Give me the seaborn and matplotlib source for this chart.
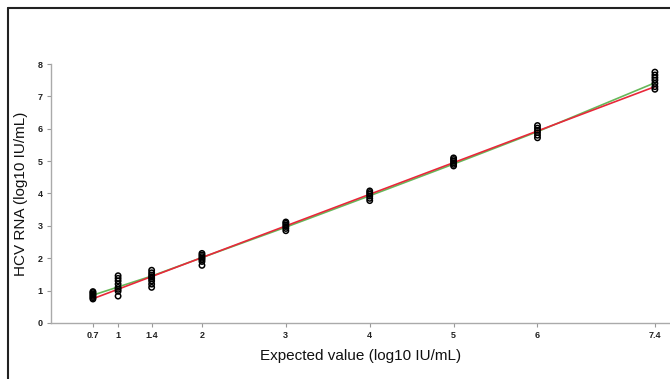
import numpy as np
import pandas as pd
import matplotlib
matplotlib.use("Agg")
import matplotlib.pyplot as plt
import seaborn as sns
from matplotlib.lines import Line2D

# Data
expected = [0.7, 1, 1.4, 2, 3, 4, 5, 6, 7.4]
measured = [
    [0.74, 0.78, 0.82, 0.86, 0.9, 0.94, 0.97],
    [0.83, 0.98, 1.04, 1.1, 1.2, 1.3, 1.38, 1.46],
    [1.1, 1.2, 1.3, 1.37, 1.42, 1.48, 1.55, 1.63],
    [1.78, 1.9, 1.96, 2.0, 2.05, 2.1, 2.15],
    [2.85, 2.92, 2.98, 3.03, 3.08, 3.12],
    [3.78, 3.85, 3.92, 3.98, 4.03, 4.08],
    [4.85, 4.9, 4.95, 5.0, 5.05, 5.1],
    [5.72, 5.8, 5.88, 5.95, 6.02, 6.1],
    [7.22, 7.3, 7.4, 7.5, 7.58, 7.66, 7.75],
]
green_x = [0.7, 1.4, 2, 3, 4, 5, 6, 7.4]
green_y = [0.86, 1.45, 2.02, 2.96, 3.93, 4.91, 5.91, 7.42]
red_x = [0.7, 7.4]
red_y = [0.75, 7.3]
xticks = [0.7, 1, 1.4, 2, 3, 4, 5, 6, 7.4]
xticklabels = ["0.7", "1", "1.4", "2", "3", "4", "5", "6", "7.4"]
yticks = [0, 1, 2, 3, 4, 5, 6, 7, 8]

rows = [(x, v) for x, vals in zip(expected, measured) for v in vals]
df = pd.DataFrame(rows, columns=["expected", "measured"])
lines = pd.DataFrame({
    "x": green_x + red_x,
    "y": green_y + red_y,
    "fit": ["green"] * len(green_x) + ["red"] * len(red_x),
})

sns.set_style("white")
plt.rcParams["font.family"] = ["Liberation Sans", "DejaVu Sans"]

fig = plt.figure(figsize=(6.7, 3.79), dpi=100)
ax = fig.add_axes([0.0761, 0.1478, 0.9239, 0.6833])

sns.lineplot(data=lines, x="x", y="y", hue="fit",
             palette={"green": "#66b85a", "red": "#e8283a"},
             linewidth=1.2, legend=False, ax=ax, zorder=2, sort=True)
sns.scatterplot(data=df, x="expected", y="measured", marker="o",
                facecolor="none", edgecolor="black", linewidth=1.1,
                s=15, ax=ax, zorder=3)

ax.set_xlim(0.2, 7.58)
ax.set_ylim(0, 8)
ax.set_xticks(xticks)
ax.set_xticklabels(xticklabels)
ax.set_yticks(yticks)
for lab in ax.get_xticklabels() + ax.get_yticklabels():
    lab.set_fontweight("bold")
    lab.set_fontsize(6.5)
    lab.set_color("#222222")
ax.tick_params(axis="both", length=3, width=0.8, color="#999999", pad=3, direction="out")
ax.tick_params(axis="x", bottom=True)
ax.tick_params(axis="y", left=True)

for s in ["top", "right"]:
    ax.spines[s].set_visible(False)
for s in ["left", "bottom"]:
    ax.spines[s].set_color("#aaaaaa")
    ax.spines[s].set_linewidth(1.0)

ax.set_xlabel("Expected value (log10 IU/mL)", fontsize=11, labelpad=6, color="#111111")
ax.set_ylabel("HCV RNA (log10 IU/mL)", fontsize=11, color="#111111")
ax.yaxis.set_label_coords(-0.037, 0.5)

# outer frame (top and left)
fig.add_artist(Line2D([0.012, 1.0], [0.979, 0.979], color="#222222", lw=1.5, transform=fig.transFigure))
fig.add_artist(Line2D([0.012, 0.012], [0.0, 0.979], color="#222222", lw=1.5, transform=fig.transFigure))

fig.savefig("out.png", dpi=100)
